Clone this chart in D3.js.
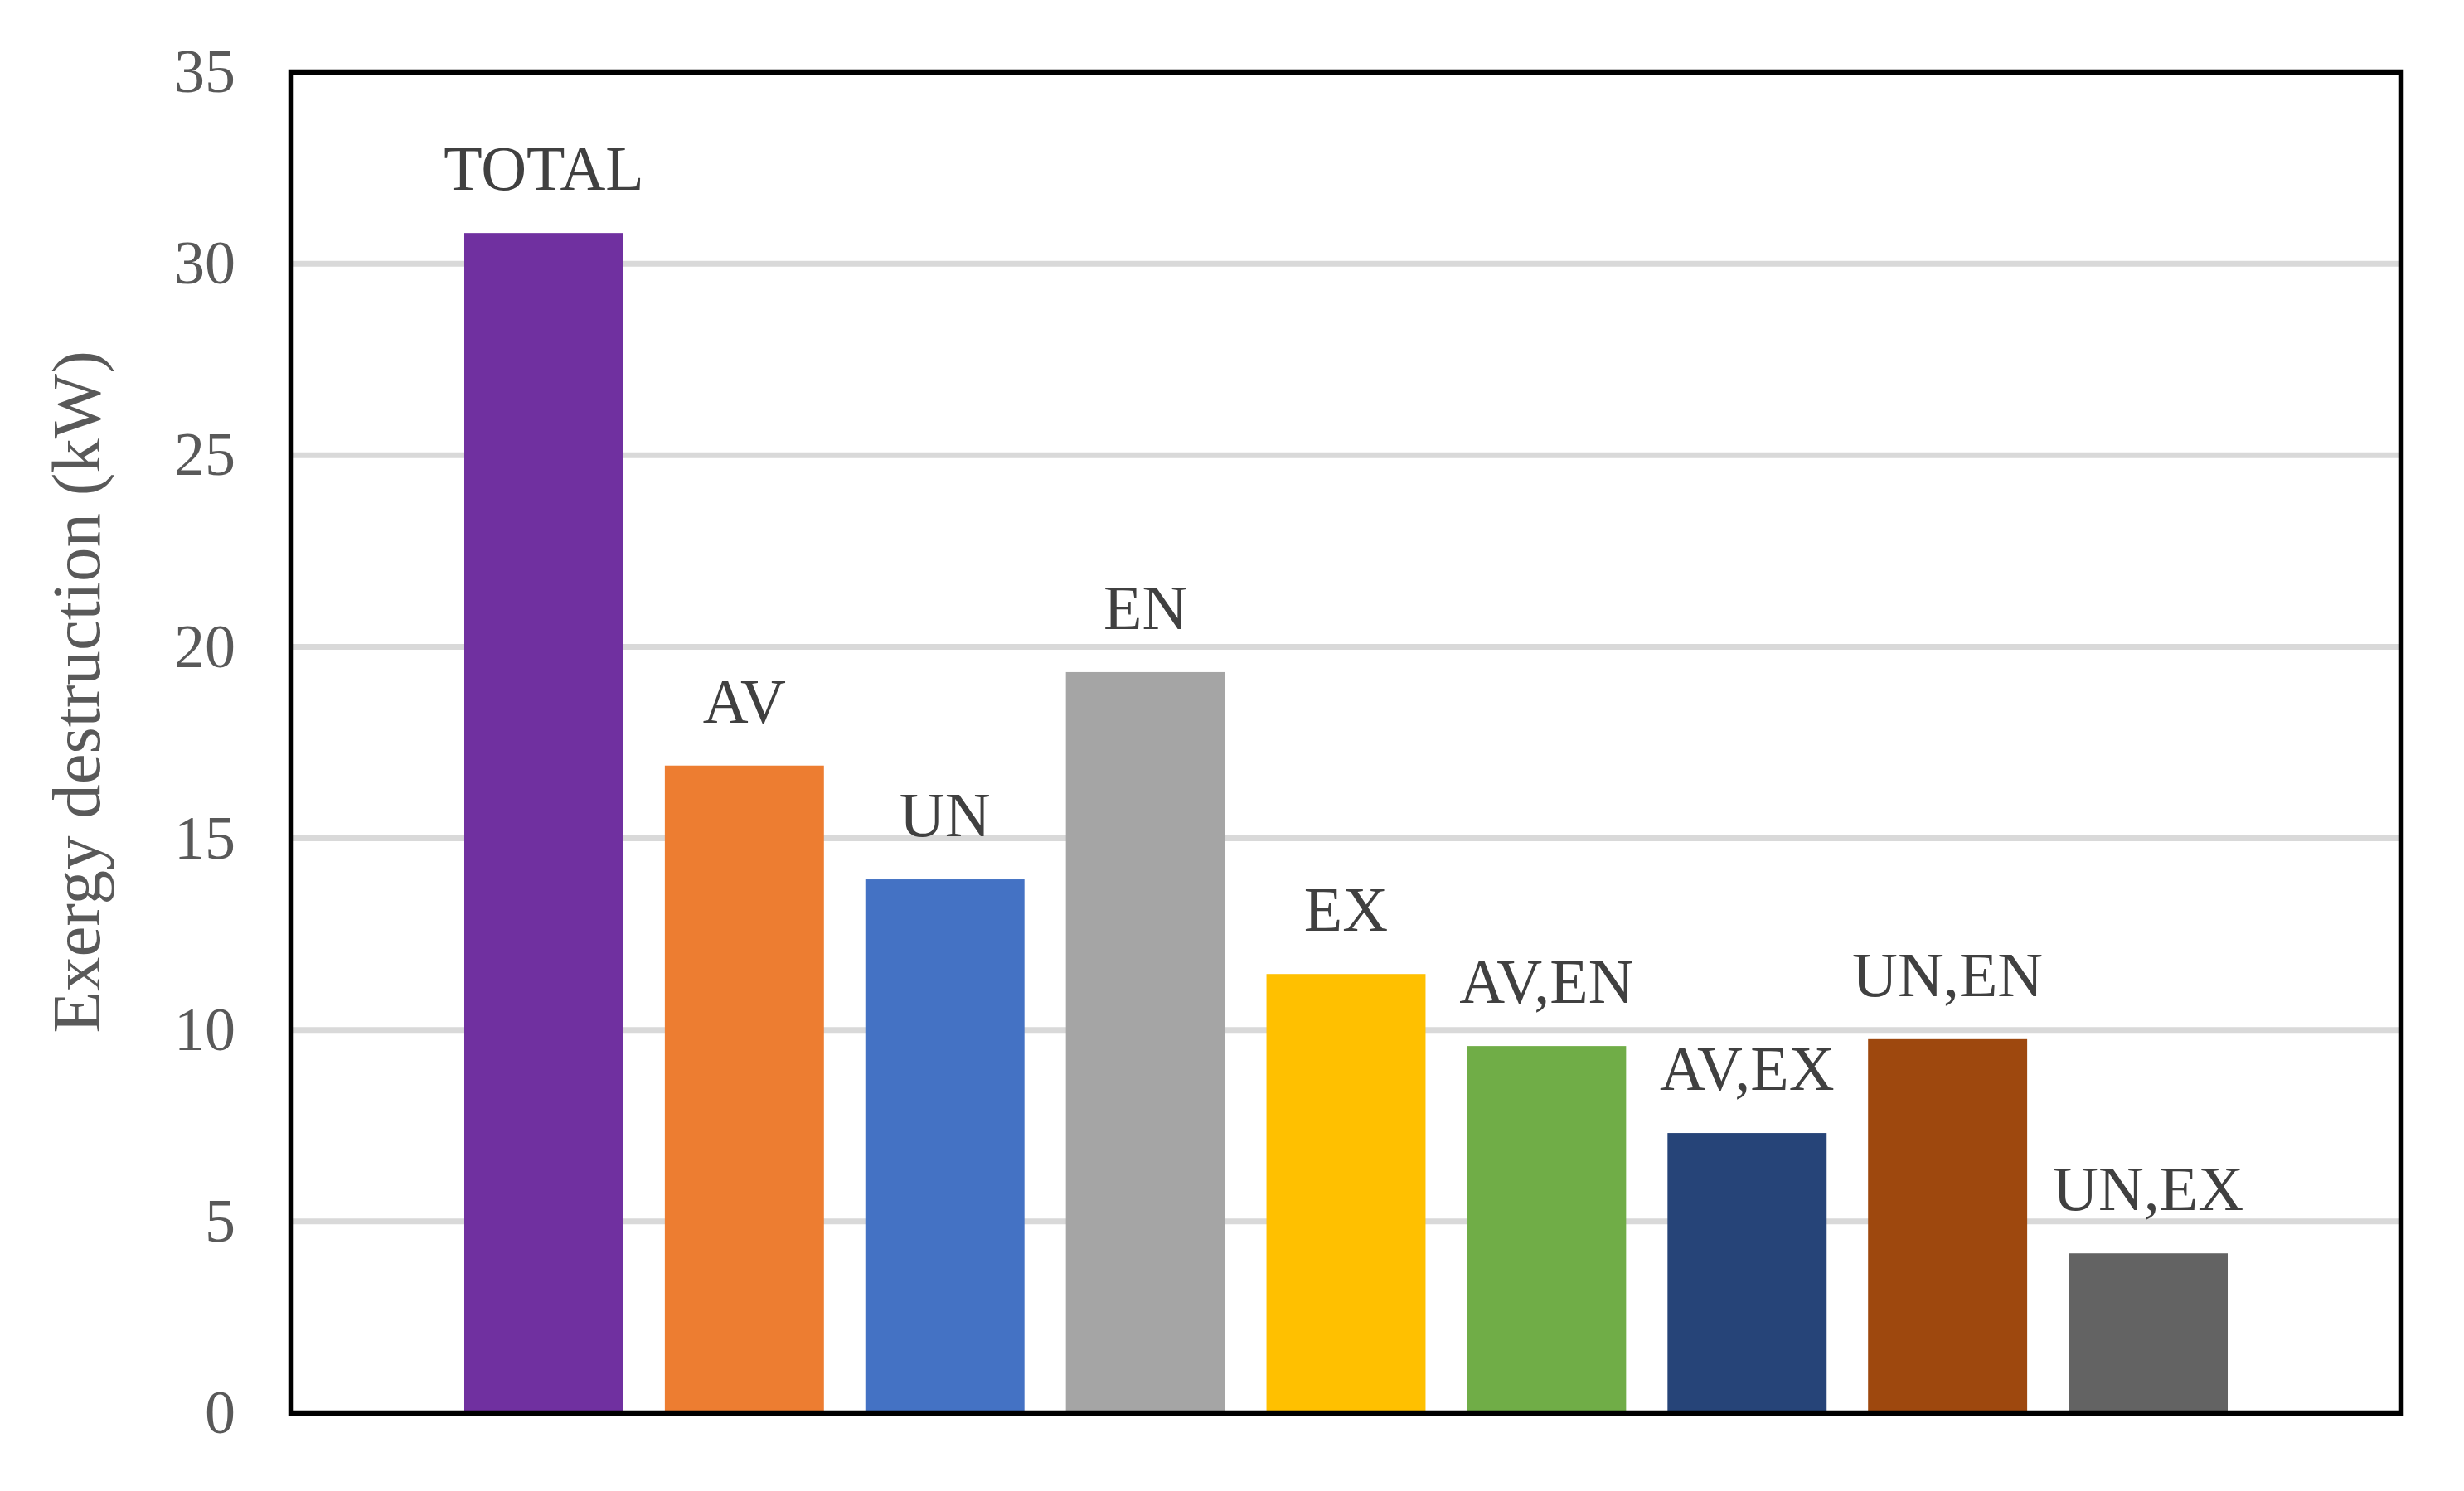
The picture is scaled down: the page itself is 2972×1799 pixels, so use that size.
<!DOCTYPE html>
<html>
<head>
<meta charset="utf-8">
<script src="https://cdn.jsdelivr.net/npm/d3@7"></script>
<style>
  html, body { margin: 0; padding: 0; background: #fff; }
  svg { display: block; }
  text { font-family: "Liberation Serif", "Times New Roman", serif; }
</style>
</head>
<body>
<svg id="chart" width="2972" height="1799"></svg>
<script>
// data
var categories = ['TOTAL', 'AV', 'UN', 'EN', 'EX', 'AV,EN', 'AV,EX', 'UN,EN', 'UN,EX'];
var values = [30.8, 16.9, 13.93, 19.34, 11.46, 9.58, 7.31, 9.76, 4.17];
var colors = ['#7030A0', '#ED7D31', '#4472C4', '#A5A5A5', '#FFC000', '#70AD47', '#264478', '#9E480E', '#636363'];
var yTicks = [0, 5, 10, 15, 20, 25, 30, 35];
var yTitle = 'Exergy destruction (kW)';

var svg = d3.select('#chart');
// plot box (window.top is reserved, so no "top")
var plotLeft = 351, plotRight = 2896, plotTop = 87, plotBottom = 1705;

var x = d3.scaleBand()
  .domain(categories)
  .range([plotLeft, plotRight])
  .paddingInner(0.2066)
  .paddingOuter(0.864);

var y = d3.scaleLinear()
  .domain([0, 35])
  .range([plotBottom, plotTop]);

//gridlines
svg.append('g').selectAll('line')
  .data(yTicks.filter(function(d){ return d > 0 && d < 35; }))
  .enter().append('line')
  .attr('x1', plotLeft)
  .attr('x2', plotRight)
  .attr('y1', function(d){ return y(d); })
  .attr('y2', function(d){ return y(d); })
  .attr('stroke', '#D9D9D9')
  .attr('stroke-width', 7);

//bars
svg.append('g').selectAll('rect')
  .data(values)
  .enter().append('rect')
  .attr('x', function(d, i){ return x(categories[i]); })
  .attr('width', x.bandwidth())
  .attr('y', function(d){ return y(d); })
  .attr('height', function(d){ return y(0) - y(d); })
  .attr('fill', function(d, i){ return colors[i]; });

//labels above bars
svg.append('g').selectAll('text')
  .data(values)
  .enter().append('text')
  .attr('x', function(d, i){ return x(categories[i]) + x.bandwidth() / 2; })
  .attr('y', function(d){ return y(d) - 52; })
  .attr('text-anchor', 'middle')
  .attr('font-size', 76)
  .attr('fill', '#404040')
  .text(function(d, i){ return categories[i]; });

//frame
svg.append('rect')
  .attr('x', plotLeft)
  .attr('y', plotTop)
  .attr('width', plotRight - plotLeft)
  .attr('height', plotBottom - plotTop)
  .attr('fill', 'none')
  .attr('stroke', '#000')
  .attr('stroke-width', 6.5);

//y axis labels
var yAxis = d3.axisLeft(y).tickValues(yTicks).tickSize(0).tickPadding(67);
var gy = svg.append('g')
  .attr('transform', 'translate(' + plotLeft + ',0)')
  .call(yAxis);
gy.select('.domain').remove();
gy.selectAll('text')
  .attr('font-family', '"Liberation Serif", "Times New Roman", serif')
  .attr('font-size', 74)
  .attr('fill', '#595959');

svg.append('text')
  .attr('transform', 'translate(120,835) rotate(-90)')
  .attr('text-anchor', 'middle')
  .attr('font-size', 83)
  .attr('fill', '#595959')
  .text(yTitle);
</script>
</body>
</html>
